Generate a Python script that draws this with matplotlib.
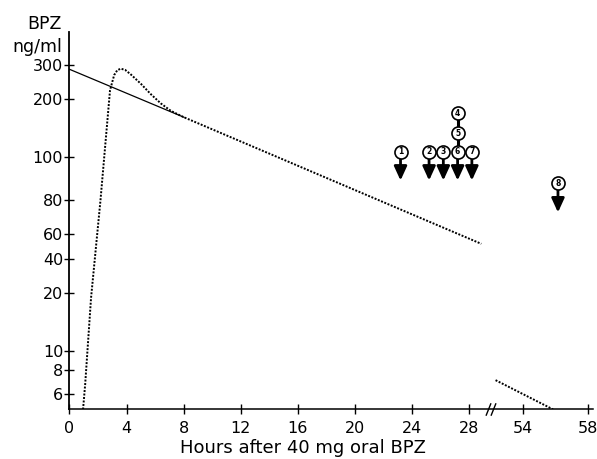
import numpy as np
import matplotlib
matplotlib.use("Agg")
import matplotlib.pyplot as plt
from matplotlib.patches import ArrowStyle
from matplotlib.transforms import ScaledTranslation

# ---------------- data ----------------
# absorption / elimination curve (dotted), hours vs ng/ml
curve_hours = [0.95, 1.10, 1.51, 2.17, 2.84, 3.13, 3.35, 3.6, 3.9, 4.3, 5.0, 5.7, 6.4, 7.1, 8.03, 28.86]
curve_conc = [5.0, 6.75, 18.8, 59.9, 222, 266, 282, 287, 283, 268, 240, 212, 190, 174, 161, 35.8]
# extrapolated elimination line (solid)
extrap_hours = [0.0, 8.03]
extrap_conc = [285, 161]
# late segment after the axis break (dotted)
late_hours = [52.3, 55.85]
late_conc = [7.08, 5.0]

# numbered event markers
marker_labels = ['1', '2', '3', '4', '5', '6', '7', '8']
marker_hours = [23.2, 25.2, 26.2, 27.2, 27.2, 27.2, 28.2, 56.15]
marker_levels = [107, 107, 107, 169, 133, 107, 107, 73.5]
marker_tips = [76, 76, 76, None, None, 76, 76, 52]

x_ticks = [0, 4, 8, 12, 16, 20, 24, 28, 54, 58]
x_ticklabels = ['0', '4', '8', '12', '16', '20', '24', '28', '54', '58']
y_ticks = [6, 8, 10, 20, 30, 40, 60, 100, 200, 300]
y_ticklabels = ['6', '8', '10', '20', '40', '60', '80', '100', '200', '300']

# ---------------- broken x scale ----------------
BREAK_LO, BREAK_HI, RIGHT_RATIO = 29.5, 52.0, 1.136
H = np.array([-100.0, BREAK_LO, BREAK_HI, 300.0])
U = np.array([-100.0, BREAK_LO, BREAK_LO + 0.02, BREAK_LO + 0.02 + (300.0 - BREAK_HI) * RIGHT_RATIO])

def fwd(h):
    return np.interp(np.asarray(h, dtype=float), H, U)

def inv(u):
    return np.interp(np.asarray(u, dtype=float), U, H)

plt.rcParams['font.family'] = ['DejaVu Sans']

fig = plt.figure(figsize=(5.97, 4.59), dpi=100)
ax = fig.add_axes([0.1164, 0.108, 0.993 - 0.1164, 0.9303 - 0.108])

ax.set_xscale('function', functions=(fwd, inv))
ax.set_yscale('log')
ax.set_xlim(0, 58.3)
ax.set_ylim(5, 444)

dot = (0, (1, 0.8))
ax.plot(curve_hours, curve_conc, color='black', lw=1.4, linestyle=dot, zorder=3)
ax.plot(extrap_hours, extrap_conc, color='black', lw=0.9, zorder=3)
ax.plot(late_hours, late_conc, color='black', lw=1.4, linestyle=dot, zorder=3)

# connector between stacked markers 4-5-6
stack_x = [h for h, lab in zip(marker_hours, marker_labels) if lab in ('4', '5', '6')]
stack_y = [v for v, lab in zip(marker_levels, marker_labels) if lab in ('4', '5', '6')]
ax.plot(stack_x, stack_y, color='black', lw=2.2, zorder=4)

astyle = ArrowStyle('-|>', head_length=0.7, head_width=0.32)
for lab, hx, lv, tip in zip(marker_labels, marker_hours, marker_levels, marker_tips):
    if tip is not None:
        ax.annotate('', xy=(hx, tip), xytext=(hx, lv),
                    arrowprops=dict(arrowstyle=astyle, color='black', lw=2.0,
                                    shrinkA=4.5, shrinkB=0, mutation_scale=12),
                    zorder=4)
    ax.plot([hx], [lv], marker='o', ms=9.4, mfc='white', mec='black', mew=1.2, zorder=5)
    ax.text(hx, lv, lab, ha='center', va='center', fontsize=5.5, fontweight='bold', zorder=6)

# axes styling
ax.spines['top'].set_visible(False)
ax.spines['right'].set_visible(False)
ax.spines['left'].set_linewidth(1.3)
ax.spines['bottom'].set_linewidth(1.1)

ax.set_xticks(x_ticks)
ax.set_xticklabels(x_ticklabels)
ax.set_yticks(y_ticks)
ax.set_yticklabels(y_ticklabels)
ax.xaxis.set_minor_locator(matplotlib.ticker.NullLocator())
ax.yaxis.set_minor_locator(matplotlib.ticker.NullLocator())
ax.tick_params(axis='both', direction='inout', length=7, width=1.0, labelsize=11.5)
ax.tick_params(axis='y', pad=1)
ax.tick_params(axis='x', pad=5)

# break marks on the x axis
bx = 0.5 * (BREAK_LO + BREAK_HI)
for dx in (-2.0, 2.0):
    tr = ax.get_xaxis_transform() + ScaledTranslation(dx / 72.0, 0, fig.dpi_scale_trans)
    ax.plot([bx], [0], marker=[(-1, -2.5), (1, 2.5)], ms=9, mew=1.0, color='black',
            transform=tr, clip_on=False, zorder=6)

# texts
fig.text(62 / 597, 1 - 24 / 459, 'BPZ', ha='right', va='center', fontsize=12.5)
fig.text(62 / 597, 1 - 47 / 459, 'ng/ml', ha='right', va='center', fontsize=12.5)
fig.text(303 / 597, 1 - 448 / 459, 'Hours after 40 mg oral BPZ', ha='center', va='center', fontsize=13)

fig.savefig('out.png', dpi=100)
